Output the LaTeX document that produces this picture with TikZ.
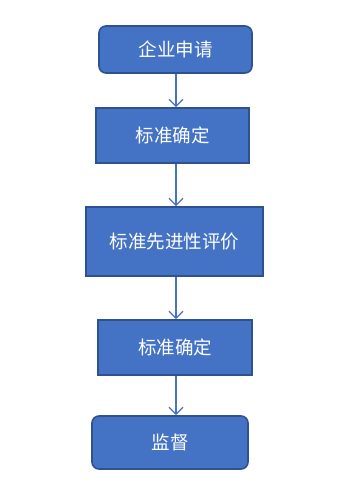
\documentclass[tikz,border=0pt]{standalone}
\usepackage{fontspec}
\newfontfamily\cjk{Noto Sans CJK SC}
\usepackage{tikz}
\usetikzlibrary{positioning,arrows.meta}

\definecolor{boxfill}{HTML}{4472C4}
\definecolor{boxline}{HTML}{2F528F}

\begin{document}
\begin{tikzpicture}[
  x=1pt, y=-1pt,
  font=\cjk\fontsize{18.5}{21}\selectfont,
  stage/.style = {rectangle, draw=boxline, line width=1.6pt, fill=boxfill,
    text=white, inner sep=0pt, align=center},
  endstage/.style = {stage, rounded corners=7pt},
  arrow/.style = {-{Straight Barb[length=7pt,width=14pt]}, line width=1.3pt, draw=boxfill},
]
  \useasboundingbox (0,0) rectangle (346,493);

  \node[endstage, minimum width=153pt, minimum height=47pt] (apply)  at (175.5,49.5)  {企业申请};
  \node[stage,    minimum width=153pt, minimum height=55pt] (fix1)   at (172.5,135.5) {标准确定};
  \node[stage,    minimum width=177pt, minimum height=69pt] (eval)   at (174.5,241.5) {标准先进性评价};
  \node[stage,    minimum width=154pt, minimum height=55pt] (fix2)   at (175,347.5)   {标准确定};
  \node[endstage, minimum width=156pt, minimum height=53pt] (watch)  at (170,442.5)   {监督};

  \coordinate (c1) at (176,0);
  \draw[arrow] (c1 |- apply.south) -- (c1 |- fix1.north);
  \draw[arrow] (c1 |- fix1.south)  -- (c1 |- eval.north);
  \draw[arrow] (c1 |- eval.south)  -- (c1 |- fix2.north);
  \draw[arrow] (c1 |- fix2.south)  -- (c1 |- watch.north);
\end{tikzpicture}
\end{document}
